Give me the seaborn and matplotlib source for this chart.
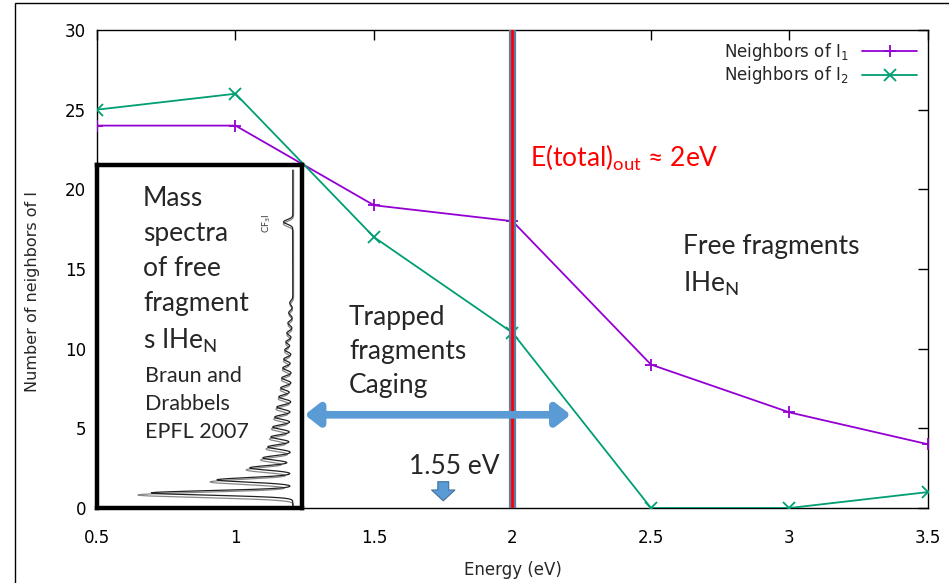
import numpy as np
import pandas as pd
import matplotlib
matplotlib.use("Agg")
import matplotlib.pyplot as plt
import seaborn as sns
from matplotlib.patches import Rectangle

# ---- data ----
energy = [0.5, 1.0, 1.5, 2.0, 2.5, 3.0, 3.5]
neighbors_i1 = [24, 24, 19, 18, 9, 6, 4]
neighbors_i2 = [25, 26, 17, 11, 0, 0, 1]
series_names = ["Neighbors of I$_1$", "Neighbors of I$_2$"]
x_ticks = [0.5, 1, 1.5, 2, 2.5, 3, 3.5]
x_tick_labels = ["0.5", "1", "1.5", "2", "2.5", "3", "3.5"]
y_ticks = [0, 5, 10, 15, 20, 25, 30]

# inset mass spectrum (peak positions along the inset height, peak intensities)
peak_pos = [0.044, 0.082, 0.117, 0.146, 0.178, 0.207, 0.236, 0.265, 0.294, 0.324,
            0.350, 0.379, 0.408, 0.434, 0.461, 0.484, 0.510, 0.539, 0.569, 0.598, 0.834]
peak_int = [0.69, 0.37, 0.21, 0.146, 0.122, 0.107, 0.098, 0.088, 0.078, 0.068,
            0.059, 0.054, 0.049, 0.044, 0.039, 0.034, 0.029, 0.024, 0.020, 0.015, 0.045]

sns.set_theme(style="white")
plt.rcParams["font.family"] = ["DejaVu Sans"]

fig = plt.figure(figsize=(9.49, 5.83), dpi=100)
ax = fig.add_axes([97/949, 75/583, 831/949, 478/583])

colors = ["#9400D3", "#009E73"]
markers = ["+", "x"]
for name, vals, c, m in zip(series_names, [neighbors_i1, neighbors_i2], colors, markers):
    d = pd.DataFrame({"energy": energy, "n": vals})
    sns.lineplot(data=d, x="energy", y="n", ax=ax, color=c, marker=m, markersize=9,
                 markeredgecolor=c, markeredgewidth=1.3, linewidth=1.3, label=name,
                 zorder=3)

ax.set_xlim(0.5, 3.5)
ax.set_ylim(0, 30)
ax.set_xticks(x_ticks)
ax.set_xticklabels(x_tick_labels)
ax.set_yticks(y_ticks)
ax.tick_params(direction="in", length=7, width=1, top=True, right=True,
               labelsize=12, colors="black")
ax.tick_params(axis="x", pad=15)
ax.tick_params(axis="y", pad=8)
for s in ax.spines.values():
    s.set_color("black")
    s.set_linewidth(1)
ax.set_xlabel("Energy (eV)", fontsize=12, labelpad=10)
ax.set_ylabel("Number of neighbors of I", fontsize=11.5)
ax.yaxis.set_label_coords(-0.069, 0.452)

leg = ax.legend(loc="upper right", frameon=False, markerfirst=False,
                handlelength=3.3, borderaxespad=0.25, labelspacing=0.1,
                prop={"family": "DejaVu Sans", "size": 12})

# vertical energy line
ax.axvline(2.0, color="#5B7FA8", lw=5.2, zorder=4)
ax.axvline(2.0, color="red", lw=2.0, zorder=5)

# double arrow (trapped region)
ax.annotate("", xy=(1.25, 5.85), xytext=(2.21, 5.85),
            arrowprops=dict(arrowstyle="<|-|>,head_length=0.7,head_width=0.55",
                            color="#5B9BD5", lw=5.5, shrinkA=0, shrinkB=0), zorder=6)
# small down arrow
ax.annotate("", xy=(1.75, 0.45), xytext=(1.75, 1.65),
            arrowprops=dict(arrowstyle="simple,head_length=0.65,head_width=1.4,tail_width=0.65",
                            fc="#5B9BD5", ec="#41719C", lw=0.8, shrinkA=0, shrinkB=0,
                            mutation_scale=12), zorder=6)

txt_font = ["Lato", "DejaVu Sans"]
ax.text(1.79, 2.6, "1.55 eV", fontsize=19, ha="center", va="center", family=txt_font)
ax.text(2.063, 22.0, "E(total)$_{\\mathregular{out}}$ \u2248 2eV", fontsize=19, color="red",
        ha="left", va="center", family=txt_font)
ax.text(1.41, 9.8, "Trapped\nfragments\nCaging", fontsize=19, ha="left", va="center",
        family=txt_font, linespacing=1.45)
ax.text(2.615, 15.2, "Free fragments\nIHe$_{\\mathregular{N}}$", fontsize=19, ha="left",
        va="center", family=txt_font, linespacing=1.45)

# inset with mass spectrum
ins = fig.add_axes([97/949, 75/583, 205/949, 343/583], zorder=5)
ins.set_facecolor("white")
ins.set_xlim(0, 1)
ins.set_ylim(0, 1)
ins.set_xticks([])
ins.set_yticks([])
for s in ins.spines.values():
    s.set_color("black")
    s.set_linewidth(3.2)
yy = np.linspace(0.0, 0.985, 2000)
base = 0.955
xx = np.full_like(yy, base)
xg = np.full_like(yy, base + 0.004)
for p, h in zip(peak_pos, peak_int):
    xx -= h * np.exp(-0.5 * ((yy - p) / 0.0065) ** 2)
    xg -= h * 1.1 * np.exp(-0.5 * ((yy - p + 0.006) / 0.0075) ** 2)
ins.plot(xg, yy, color="#888888", lw=0.9)
ins.plot(xx, yy, color="#222222", lw=0.9)
ins.text(0.83, 0.83, "CF$_3$I", rotation=90, fontsize=6.5, ha="center", va="center",
         color="#333333")
ins.text(0.224, 0.94, "Mass\nspectra\nof free\nfragment\ns IHe$_{\\mathregular{N}}$", fontsize=19,
         ha="left", va="top", family=txt_font, linespacing=1.5)
ins.text(0.234, 0.415, "Braun and\nDrabbels\nEPFL 2007", fontsize=15.5, ha="left", va="top",
         family=txt_font, linespacing=1.5)

# outer frame of the picture
fig.patches.append(Rectangle((15/949, -0.05), 1.1, (583 - 3)/583 + 0.05,
                             transform=fig.transFigure, fill=False, ec="black", lw=1))

fig.savefig("out.png", dpi=100)
